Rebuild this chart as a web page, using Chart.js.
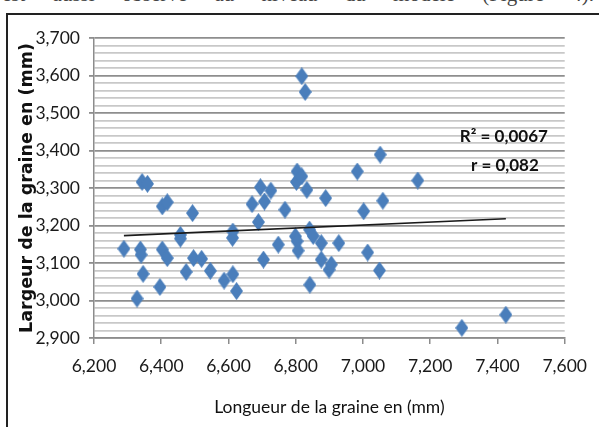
<!DOCTYPE html>
<html>
<head>
<meta charset="utf-8">
<script src="https://cdn.jsdelivr.net/npm/chart.js@4.4.0/dist/chart.umd.min.js"></script>
<style>
  html, body { margin: 0; padding: 0; background: #fff; overflow: hidden; }
  body { width: 599px; height: 427px; position: relative; }
  #topline {
    position: absolute; left: 2px; top: -16px; width: 592px;
    font: 21px/21px "Liberation Serif", serif; color: #444;
    text-align: justify; text-align-last: justify;
  }
  #frame {
    position: absolute; left: 6px; top: 13px; width: 640px; height: 460px;
    border-left: 2px solid #222; border-top: 2px solid #222;
  }
  #chart { position: absolute; left: 0; top: 0; }
</style>
</head>
<body>
<div id="topline">est aussi observé au niveau du modèle (Figure 4).</div>
<div id="frame"></div>
<canvas id="chart" width="599" height="427"></canvas>
<script>
// Longueur (x) et largeur (y) des graines, en mm
const longueur = [
  6.289, 6.328, 6.338, 6.340, 6.346, 6.343, 6.359, 6.396, 6.403, 6.418,
  6.403, 6.418, 6.457, 6.457, 6.474, 6.493, 6.496, 6.520, 6.546, 6.587,
  6.613, 6.624, 6.613, 6.612, 6.670, 6.689, 6.695, 6.704, 6.707, 6.726,
  6.748, 6.768, 6.799, 6.804, 6.807, 6.802, 6.804, 6.818, 6.833, 6.818,
  6.828, 6.841, 6.852, 6.842, 6.876, 6.876, 6.889, 6.899, 6.906, 6.928,
  6.983, 7.002, 7.014, 7.049, 7.051, 7.059, 7.163, 7.294, 7.425
];
const largeur = [
  3.138, 3.005, 3.136, 3.122, 3.071, 3.316, 3.311, 3.036, 3.136, 3.113,
  3.251, 3.262, 3.175, 3.165, 3.076, 3.233, 3.113, 3.111, 3.079, 3.053,
  3.070, 3.025, 3.184, 3.167, 3.257, 3.209, 3.302, 3.109, 3.264, 3.293,
  3.149, 3.242, 3.171, 3.158, 3.133, 3.316, 3.344, 3.331, 3.295, 3.598,
  3.556, 3.189, 3.172, 3.042, 3.153, 3.109, 3.273, 3.082, 3.096, 3.153,
  3.344, 3.238, 3.128, 3.080, 3.389, 3.266, 3.320, 2.927, 2.962
];

// Courbe de tendance (extrémités)
const trendX = [6.289, 7.425];
const trendY = [3.173, 3.218];

const xTicks = [6.2, 6.4, 6.6, 6.8, 7.0, 7.2, 7.4, 7.6];
const yTicks = [2.9, 3.0, 3.1, 3.2, 3.3, 3.4, 3.5, 3.6, 3.7];

const r2Label = 'R² = 0,0067';
const rLabel = 'r = 0,082';

const fmt = v => v.toFixed(3).replace('.', ',');
const isMajor = v => Math.abs(v * 10 - Math.round(v * 10)) < 1e-6;

// Losange bleu (marqueur Excel)
const diamond = document.createElement('canvas');
diamond.width = 13;
diamond.height = 18;
const dctx = diamond.getContext('2d');
dctx.fillStyle = '#4a7ebb';
dctx.beginPath();
dctx.moveTo(6.5, 0);
dctx.lineTo(13, 9);
dctx.lineTo(6.5, 18);
dctx.lineTo(0, 9);
dctx.closePath();
dctx.fill();

const labelPlugin = {
  id: 'r2',
  afterDatasetsDraw(chart) {
    const { ctx, scales } = chart;
    ctx.save();
    ctx.fillStyle = '#111';
    ctx.font = 'bold 17px Lato';
    ctx.textAlign = 'center';
    ctx.textBaseline = 'middle';
    ctx.fillText(r2Label, scales.x.getPixelForValue(7.419), scales.y.getPixelForValue(3.437));
    ctx.fillText(rLabel, scales.x.getPixelForValue(7.422), scales.y.getPixelForValue(3.360));
    ctx.restore();
  }
};

const tickFont = { family: 'Lato', size: 17.5 };

new Chart(document.getElementById('chart'), {
  type: 'scatter',
  data: {
    datasets: [
      {
        label: 'tendance',
        data: trendX.map((x, i) => ({ x, y: trendY[i] })),
        showLine: true,
        borderColor: '#1a1a1a',
        borderWidth: 1.6,
        pointRadius: 0,
        order: 0
      },
      {
        label: 'graines',
        data: longueur.map((x, i) => ({ x, y: largeur[i] })),
        pointStyle: diamond,
        pointRadius: 7,
        order: 1
      }
    ]
  },
  options: {
    responsive: false,
    animation: false,
    layout: { padding: { left: 0, right: 22, top: 38, bottom: 0 } },
    plugins: { legend: { display: false }, tooltip: { enabled: false } },
    scales: {
      x: {
        type: 'linear',
        min: xTicks[0],
        max: xTicks[xTicks.length - 1],
        afterFit: s => { s.height = 89; },
        ticks: { stepSize: 0.2, color: '#1a1a1a', font: tickFont, padding: 12, callback: v => fmt(v) },
        grid: { drawOnChartArea: false, tickLength: 6, tickColor: '#8c8c8c', lineWidth: 1.5 },
        border: { color: '#8c8c8c', width: 1.5 },
        title: {
          display: true,
          text: 'Longueur de la graine en (mm)',
          color: '#111',
          font: { family: 'Lato', size: 17.5 },
          padding: { top: 0, bottom: 9 }
        }
      },
      y: {
        min: yTicks[0],
        max: yTicks[yTicks.length - 1],
        afterFit: s => { s.width = 94; },
        ticks: {
          stepSize: 0.02, autoSkip: false, color: '#1a1a1a', font: tickFont, padding: 9,
          callback: v => isMajor(v) ? fmt(v) : ''
        },
        grid: {
          color: c => isMajor(c.tick.value) ? '#8e8e8e' : '#c8c8c8',
          lineWidth: 1.8,
          tickLength: 5,
          tickColor: c => isMajor(c.tick.value) ? '#8e8e8e' : 'rgba(0,0,0,0)'
        },
        border: { color: '#8c8c8c', width: 1.5 },
        title: {
          display: true,
          text: 'Largeur de la graine en (mm)',
          color: '#111',
          font: { family: 'DejaVu Sans', size: 17.5, weight: 'bold' },
          padding: { top: 16.5, bottom: 0 }
        }
      }
    }
  },
  plugins: [labelPlugin]
});
</script>
</body>
</html>
